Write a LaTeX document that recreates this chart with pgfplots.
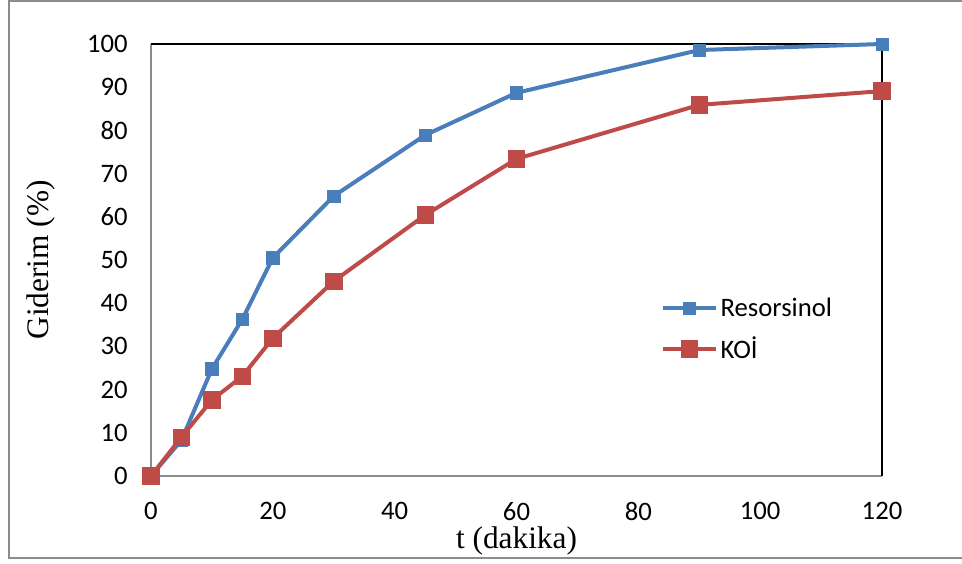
\documentclass[border=0pt]{standalone}
\usepackage{fontspec}
\setmainfont{Carlito}
\newfontfamily\timesf{Liberation Serif}
\usepackage{pgfplots}
\pgfplotsset{compat=1.18}

\definecolor{resblue}{HTML}{4A7EBB}
\definecolor{koired}{HTML}{BE4B48}
\definecolor{framegray}{HTML}{8C8C8C}

\begin{document}
\begin{tikzpicture}
  % page area and outer frame (1 unit = 0.75pt)
  \begin{scope}[x=0.75pt,y=0.75pt]
    \path[use as bounding box] (0,0) rectangle (962,563);
    \draw[framegray,line width=1.5pt] (962,562) -- (8.5,562) -- (8.5,5) -- (962,5);
  \end{scope}

  \begin{axis}[
    at={(113.25pt,65.25pt)}, anchor=south west,
    scale only axis, width=548.25pt, height=324pt,
    xmin=0, xmax=120, ymin=0, ymax=100,
    xtick={0,20,...,120}, ytick={0,10,...,100},
    major tick length=0pt,
    axis x line*=bottom, axis y line*=left,
    axis line style={framegray, line width=1pt, -},
    clip=false,
    /pgf/number format/assume math mode=true,
    tick label style={font=\fontsize{20}{22}\selectfont},
    xticklabel style={yshift=-16pt},
    yticklabel style={xshift=-14pt},
    xlabel={\timesf t (dakika)},
    ylabel={\timesf Giderim (\%)},
    label style={font=\fontsize{23.5}{25}\selectfont},
    xlabel style={yshift=2pt},
    ylabel style={yshift=17pt},
    legend style={draw=none, fill=none, at={(axis cs:83,42.5)}, anchor=north west,
      font=\fontsize{20}{22}\selectfont, row sep=10pt,
      legend cell align=left},
    legend image code/.code={
      \draw[mark repeat=2,mark phase=2] plot coordinates {(0cm,0cm) (0.7cm,0cm) (1.4cm,0cm)};},
  ]
    % top and right edges of the plot box
    \draw[black, line width=1pt] (axis cs:0,100) -- (axis cs:120,100) -- (axis cs:120,0);

    \addplot[resblue, line width=3pt, mark=square*, mark size=4.6pt,
      mark options={fill=resblue, line width=0.5pt}]
      coordinates {(0,0) (5,8.3) (10,24.8) (15,36.3) (20,50.5) (30,64.8)
                   (45,78.9) (60,88.7) (90,98.6) (120,100)};
    \addlegendentry{Resorsinol}

    \addplot[koired, line width=3pt, mark=square*, mark size=6.2pt,
      mark options={fill=koired, line width=0.5pt}]
      coordinates {(0,0) (5,9.0) (10,17.6) (15,23.1) (20,31.9) (30,45.1)
                   (45,60.4) (60,73.4) (90,85.9) (120,89.1)};
    \addlegendentry{KOİ}
  \end{axis}
\end{tikzpicture}
\end{document}
